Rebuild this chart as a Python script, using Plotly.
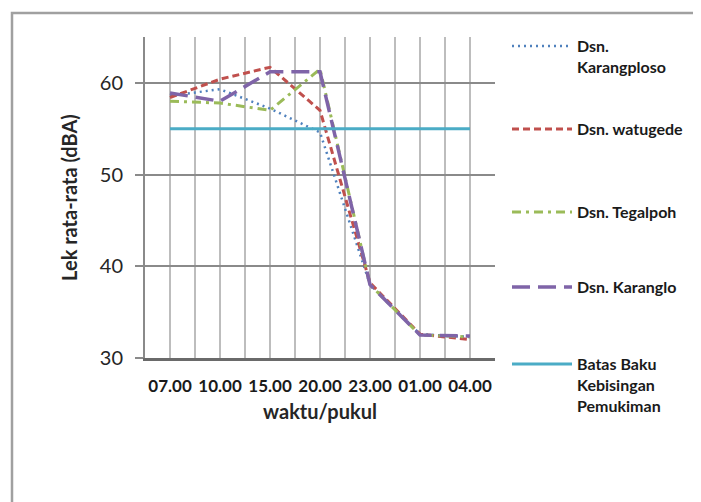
import plotly.graph_objects as go

# ---- data ----
times = ["07.00", "10.00", "15.00", "20.00", "23.00", "01.00", "04.00"]
karangploso = [58.6, 59.3, 57.2, 54.6, 38.0, 32.6, 32.3]
watugede = [58.4, 60.4, 61.7, 57.0, 38.2, 32.6, 32.0]
tegalpoh = [58.0, 57.8, 57.0, 61.5, 38.0, 32.5, 32.3]
karanglo = [58.9, 58.0, 61.2, 61.2, 38.0, 32.5, 32.4]
batas_baku = [55, 55, 55, 55, 55, 55, 55]
y_ticks = [30, 40, 50, 60]

x = list(range(len(times)))
FONT = "Lato"

series = [
    ("Dsn.<br>Karangploso", karangploso, "#4F81BD", 2.5, "2px,4px", "legend"),
    ("Dsn. watugede", watugede, "#C0504D", 3, "7px,4px", "legend2"),
    ("Dsn. Tegalpoh", tegalpoh, "#9BBB59", 3, "9px,5px,3px,5px", "legend3"),
    ("Dsn. Karanglo", karanglo, "#7F64A8", 3.5, "18px,8px", "legend4"),
    ("Batas Baku<br>Kebisingan<br>Pemukiman", batas_baku, "#4BACC6", 3, "solid", "legend5"),
]

fig = go.Figure()
for name, vals, color, width, dash, leg in series:
    fig.add_trace(go.Scatter(
        x=x, y=vals, name=name, mode="lines",
        line=dict(color=color, width=width, dash=dash),
        legend=leg,
    ))

# page has an 8px body margin; work in page pixels and convert
OFF = 8
W, H = 701 - OFF, 502 - OFF
L, R, T, B = 145 - OFF, 495 - OFF, 37 - OFF, 358 - OFF
def px(xp):
    return (xp - OFF - L) / (R - L)
def py(yp):
    return (B - (yp - OFF)) / (B - T)

leg_common = dict(
    xanchor="left", yanchor="top", bgcolor="rgba(0,0,0,0)",
    font=dict(family=FONT, size=16, color="#1a1a1a", weight="bold"),
    itemwidth=60, valign="top", borderwidth=0,
)
leg_x = px(507)
legend_tops = [29, 112, 195, 270, 347]
layout_legends = {}
for i, top in enumerate(legend_tops):
    key = "legend" if i == 0 else f"legend{i+1}"
    layout_legends[key] = dict(x=leg_x, y=py(top), **leg_common)

fig.update_layout(
    width=W, height=H,
    margin=dict(l=L, r=W - R, t=T, b=H - B, pad=0),
    paper_bgcolor="white", plot_bgcolor="white",
    showlegend=True,
    **layout_legends,
    xaxis=dict(
        range=[-0.5, len(times) - 0.5],
        tickmode="array", tickvals=x, ticktext=times,
        showgrid=True, gridcolor="#bdbdbd", gridwidth=1.5,
        minor=dict(tickmode="array", tickvals=[i - 0.5 for i in range(len(times) + 1)],
                   showgrid=True, gridcolor="#bdbdbd", gridwidth=1.5, ticks=""),
        showline=True, linecolor="#6a6a6a", linewidth=3,
        ticks="", zeroline=False,
        tickfont=dict(family=FONT, size=17, color="#1a1a1a", weight="bold"),
        ticklabelstandoff=11,
        title=dict(text="waktu/pukul", standoff=10,
                   font=dict(family=FONT, size=20, color="#262626", weight="bold")),
    ),
    yaxis=dict(
        range=[30, 65],
        tickmode="array", tickvals=y_ticks,
        showgrid=True, gridcolor="#8a8a8a", gridwidth=1.5,
        showline=True, linecolor="#8a8a8a", linewidth=2,
        ticks="outside", ticklen=8, tickcolor="#8a8a8a", tickwidth=1.5,
        zeroline=False,
        tickfont=dict(family=FONT, size=20, color="#262626"),
        ticklabelstandoff=8,
        title=dict(text="Lek rata-rata (dBA)", standoff=17,
                   font=dict(family=FONT, size=20, color="#262626", weight="bold")),
    ),
    shapes=[dict(type="rect", xref="paper", yref="paper",
                 x0=px(12), x1=px(720), y0=py(520), y1=py(13),
                 line=dict(color="#a0a0a0", width=2.5), layer="below")],
)

fig.write_html("out.html")
